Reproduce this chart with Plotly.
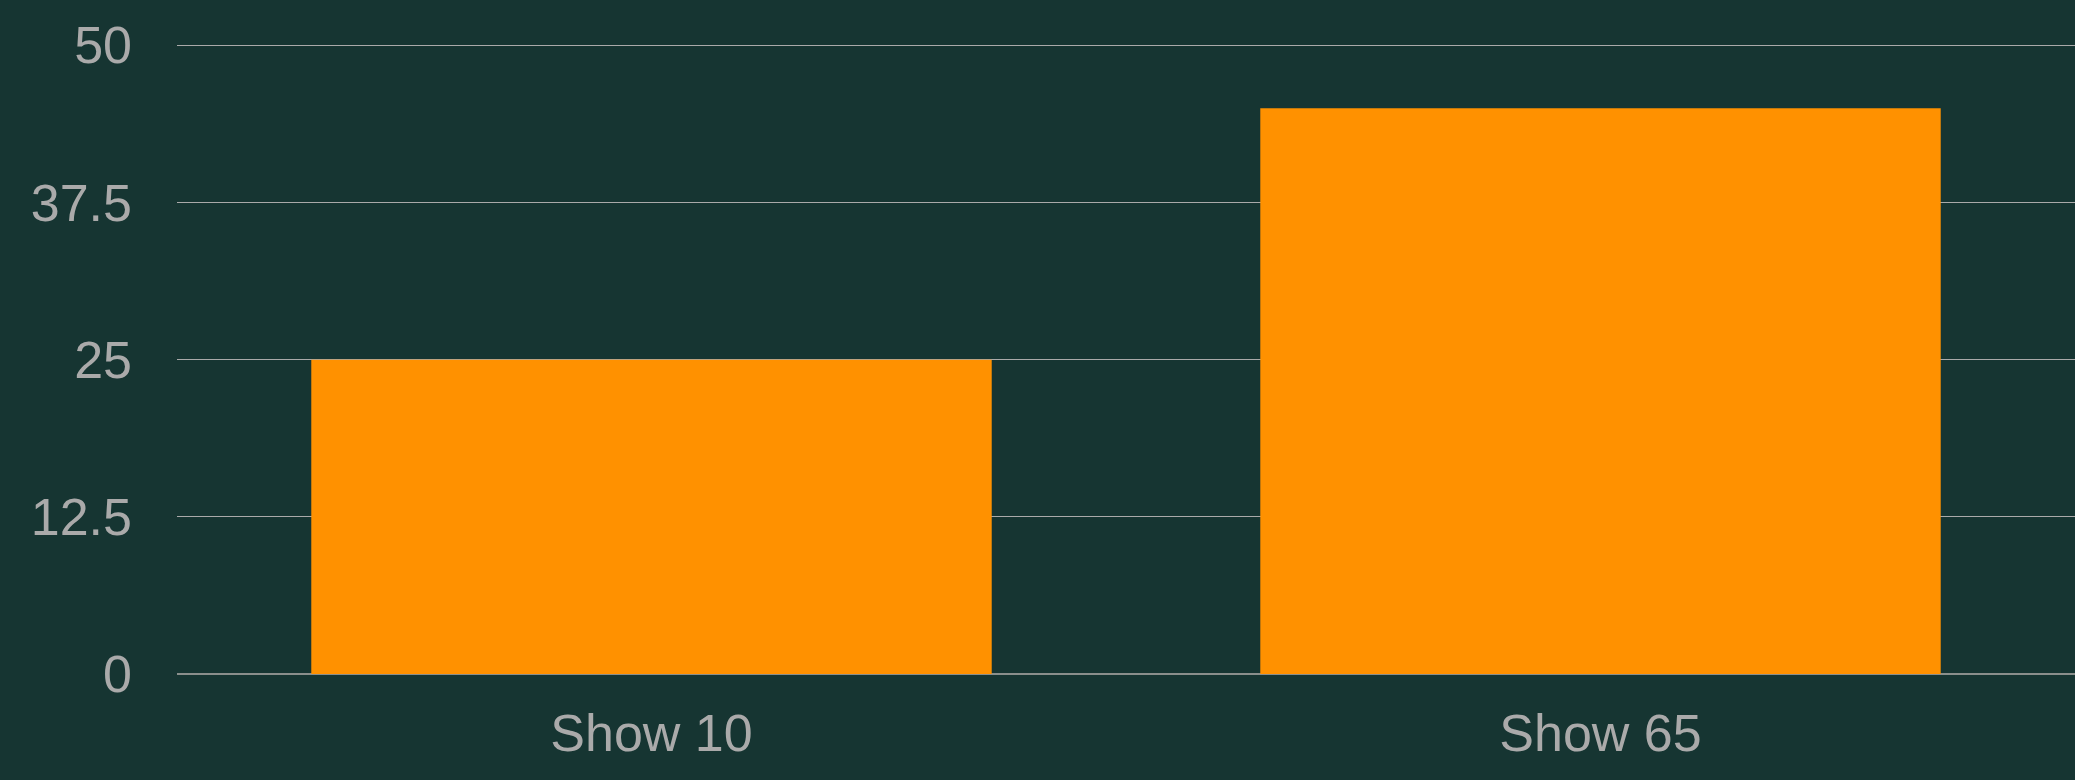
import plotly.graph_objects as go

categories = ["Show 10", "Show 65"]
values = [25, 45]
y_ticks = [0, 12.5, 25, 37.5, 50]

fig = go.Figure()
fig.add_trace(go.Bar(x=categories, y=values, marker=dict(color="#FF9100", line=dict(width=0))))

fig.update_layout(
    width=2075, height=780,
    margin=dict(l=177, r=0, t=44, b=106),
    paper_bgcolor="#163532", plot_bgcolor="#163532",
    bargap=0.283, showlegend=False,
    font=dict(family="Liberation Sans, Arial, sans-serif", size=52, color="#AAAAAA"),
)
fig.update_yaxes(
    range=[0, 50.1], tickvals=y_ticks, ticktext=[f"{v:g}" for v in y_ticks],
    showgrid=True, gridcolor="#AAAAAA", gridwidth=1,
    zeroline=True, zerolinecolor="#8A8F8C", zerolinewidth=2,
    ticklabelstandoff=44, showline=False,
)
fig.update_xaxes(showgrid=False, showline=False, ticklabelstandoff=24)

fig.write_html("out.html", config={"displayModeBar": False},
               post_script="document.body.style.margin='0';")
